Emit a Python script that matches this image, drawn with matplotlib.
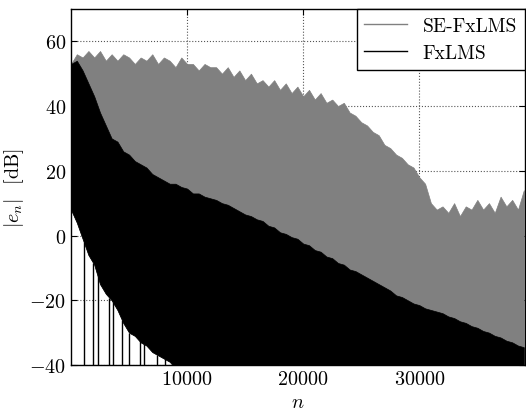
import numpy as np
import matplotlib
matplotlib.use("Agg")
import matplotlib.pyplot as plt

plt.rcParams['font.family'] = 'serif'
plt.rcParams['font.serif'] = ['cmr10', 'DejaVu Serif']
plt.rcParams['mathtext.fontset'] = 'cm'
plt.rcParams['axes.formatter.use_mathtext'] = True
plt.rcParams['axes.unicode_minus'] = True

# echantillons n (pas de 500) ou les enveloppes ont ete lues sur l'image
n = np.arange(0, 39001, 500)

# enveloppe haute du SE-FxLMS (dB)
haut_se = [53, 56, 55, 57, 55, 57, 54, 56, 54, 56,
           55, 53, 55, 54, 56, 53, 55, 54, 52, 55,
           53, 53, 51, 53, 52, 52, 50, 52, 49, 51,
           48, 50, 47, 48, 46, 48, 45, 47, 44, 46,
           43, 45, 42, 44, 41, 42, 40, 41, 38, 37,
           35, 34, 32, 31, 28, 27, 25, 24, 22, 21,
           18, 16, 10, 8, 9, 7, 10, 6, 9, 8,
           11, 8, 10, 7, 12, 9, 11, 8, 14]

# enveloppe haute du FxLMS (dB)
haut_fx = [53, 54, 51, 47, 43, 38, 34, 30, 29, 26,
           25, 23, 22, 21, 19, 18, 17, 16, 16, 15,
           14.5, 13, 13, 12, 11.5, 11, 10, 9.5, 8.5, 7.5,
           6.5, 6, 5, 4.5, 3, 2.5, 1, 0.5, -0.5, -1,
           -2.5, -3, -4.5, -5, -6.5, -7, -8.5, -9, -10.5, -11,
           -12, -13, -14, -15, -16, -17, -18.5, -19, -20, -21,
           -21.5, -22.5, -23, -23.5, -24, -25, -25.5, -26.5, -27, -28,
           -28.5, -29.5, -30, -31, -31.5, -32.5, -33, -34, -34.5]

# enveloppe basse commune (dB), sous -40 = hors du cadre
bas = [8, 4, -1, -6, -9, -15, -18, -20, -23, -27,
       -30, -31, -33, -34, -36, -37, -38, -39] + [-41] * 61

# pics noirs qui descendent jusqu'en bas a gauche (n)
pics_n = [1100, 1900, 2300, 3300, 3600, 4400, 5000, 5900, 6300, 7400, 8100]

gris = '#808080'

fig = plt.figure(figsize=(5.26, 4.14), dpi=100)
ax = fig.add_axes([0.135, 0.116, 0.863, 0.860])

ax.fill_between(n, bas, haut_se, color=gris, linewidth=0.5, edgecolor=gris, zorder=2)
ax.fill_between(n, bas, haut_fx, color='black', linewidth=0.5, edgecolor='black', zorder=3)
ax.vlines(pics_n, -41, np.interp(pics_n, n, bas), color='black', linewidth=1.0, zorder=3)
ax.plot([], [], color=gris, linewidth=1, label='SE-FxLMS')
ax.plot([], [], color='black', linewidth=1, label='FxLMS')

ax.set_xlim(0, 39100)
ax.set_ylim(-40, 70)
ax.set_xticks([10000, 20000, 30000])
ax.set_yticks([-40, -20, 0, 20, 40, 60])
ax.tick_params(direction='in', top=True, right=True, labelsize=14.5, length=4)
ax.grid(True, linestyle=':', color='#555555', linewidth=0.8, zorder=1)
ax.set_axisbelow(True)
for s in ax.spines.values():
    s.set_linewidth(1)
    s.set_zorder(5)

ax.set_xlabel('$n$', fontsize=14.5, labelpad=4)
ax.set_ylabel(r'$|e_n|$  [dB]', fontsize=14.5, labelpad=2)

leg = ax.legend(loc='upper right', fontsize=14, fancybox=False, framealpha=1,
                edgecolor='black', borderaxespad=0.0, handlelength=2.2)
leg.get_frame().set_linewidth(1)
leg.set_zorder(6)

plt.savefig('out.png', dpi=100)
